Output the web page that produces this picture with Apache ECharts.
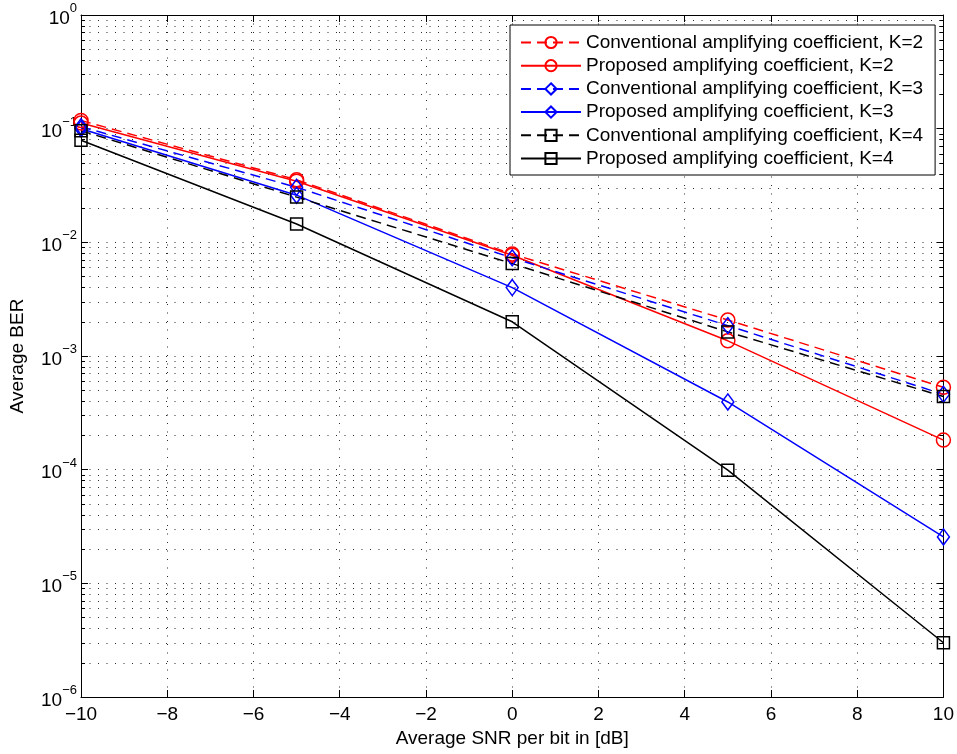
<!DOCTYPE html>
<html>
<head>
<meta charset="utf-8">
<script src="https://cdn.jsdelivr.net/npm/echarts@6/dist/echarts.min.js"></script>
<style>
  html, body { margin: 0; padding: 0; background: #fff; }
  #chart { width: 957px; height: 754px; }
</style>
</head>
<body>
<div id="chart"></div>
<script>
// Average SNR per bit (dB)
const snr = [-10, -5, 0, 5, 10];

// Average BER for each scheme
const convK2 = [0.118, 0.0355, 0.0079, 0.00207, 0.00053];
const propK2 = [0.112, 0.0345, 0.0077, 0.00136, 0.000182];
const convK3 = [0.104, 0.0305, 0.0073, 0.00185, 0.00046];
const propK3 = [0.100, 0.026, 0.0040, 0.000394, 0.0000256];
const convK4 = [0.096, 0.025, 0.0065, 0.00163, 0.00044];
const propK4 = [0.079, 0.0145, 0.0020, 0.000099, 0.0000030];

const seriesNames = [
  'Conventional amplifying coefficient, K=2',
  'Proposed amplifying coefficient, K=2',
  'Conventional amplifying coefficient, K=3',
  'Proposed amplifying coefficient, K=3',
  'Conventional amplifying coefficient, K=4',
  'Proposed amplifying coefficient, K=4'
];

// Log-axis tick positions: decades and the 2..9 sub-divisions
const decadeTicks = [1e-6, 1e-5, 1e-4, 1e-3, 1e-2, 1e-1, 1];
const minorTicks = [];
for (let e = -6; e < 0; e++) {
  for (let m = 2; m <= 9; m++) minorTicks.push(Number((m * Math.pow(10, e)).toPrecision(3)));
}

const FONT = "'Liberation Sans', Arial, Helvetica, sans-serif";
const FS = 19;
const dotted = { color: '#2a2a2a', width: 1, type: [1, 7.5] };
const dashed = [10, 6];

function makeSeries(name, values, color, symbol, size, dash) {
  return {
    name: name,
    type: 'line',
    data: snr.map((x, i) => [x, values[i]]),
    symbol: symbol,
    symbolSize: size,
    showSymbol: true,
    lineStyle: { color: color, width: 1.5, type: dash ? dashed : 'solid' },
    itemStyle: { color: 'rgba(0,0,0,0)', borderColor: color, borderWidth: 1.5 },
    emphasis: { disabled: true },
    animation: false
  };
}

const chart = echarts.init(document.getElementById('chart'), null, { renderer: 'canvas' });

chart.setOption({
  animation: false,
  backgroundColor: '#fff',
  textStyle: { fontFamily: FONT, color: '#000' },
  grid: { left: 80, top: 15, right: 12, bottom: 57, containLabel: false },
  legend: {
    orient: 'vertical',
    left: 510,
    top: 25,
    padding: [8, 12, 7, 10],
    itemWidth: 60,
    itemHeight: 14,
    itemGap: 4.2,
    backgroundColor: '#fff',
    borderColor: '#000',
    borderWidth: 1,
    borderRadius: 0,
    selectedMode: false,
    textStyle: { fontFamily: FONT, fontSize: FS, lineHeight: 19, color: '#000' },
    data: seriesNames
  },
  xAxis: [
    {
      type: 'value', min: -10, max: 10, interval: 2, position: 'bottom',
      axisLine: { onZero: false, lineStyle: { color: '#000', width: 1 } },
      axisTick: { inside: true, length: 7, lineStyle: { color: '#000' } },
      axisLabel: {
        color: '#000', fontSize: FS, fontFamily: FONT, margin: 8,
        formatter: v => (v < 0 ? '\u2212' + (-v) : String(v))
      },
      splitLine: { show: true, lineStyle: dotted },
      name: 'Average SNR per bit in [dB]',
      nameLocation: 'middle',
      nameGap: 30,
      nameTextStyle: { fontSize: FS, fontFamily: FONT, color: '#000' }
    },
    {
      type: 'value', min: -10, max: 10, interval: 2, position: 'top',
      axisLine: { onZero: false, lineStyle: { color: '#000', width: 1 } },
      axisTick: { inside: true, length: 7, lineStyle: { color: '#000' } },
      axisLabel: { show: false },
      splitLine: { show: false }
    }
  ],
  yAxis: [
    {
      type: 'log', logBase: 10, min: 1e-6, max: 1, position: 'left',
      axisLine: { onZero: false, lineStyle: { color: '#000', width: 1 } },
      axisTick: { inside: true, length: 7, customValues: decadeTicks, lineStyle: { color: '#000' } },
      axisLabel: {
        customValues: decadeTicks,
        margin: 4,
        formatter: v => {
          const e = Math.round(Math.log10(v));
          return '{b|10}{s|' + (e < 0 ? '\u2212' + (-e) : String(e)) + '}';
        },
        rich: {
          b: { fontSize: FS, fontFamily: FONT, color: '#000', verticalAlign: 'bottom', lineHeight: 26 },
          s: { fontSize: 13, fontFamily: FONT, color: '#000', verticalAlign: 'top', lineHeight: 26 }
        }
      },
      splitLine: { show: true, lineStyle: dotted },
      name: 'Average BER',
      nameLocation: 'middle',
      nameGap: 54,
      nameRotate: 90,
      nameTextStyle: { fontSize: FS, fontFamily: FONT, color: '#000' }
    },
    {
      type: 'log', logBase: 10, min: 1e-6, max: 1, position: 'left',
      axisLine: { show: false, onZero: false },
      axisTick: { inside: true, length: 4, customValues: minorTicks, lineStyle: { color: '#000' } },
      axisLabel: { show: false },
      splitLine: { show: true, lineStyle: dotted }
    },
    {
      type: 'log', logBase: 10, min: 1e-6, max: 1, position: 'right',
      axisLine: { onZero: false, lineStyle: { color: '#000', width: 1 } },
      axisTick: { inside: true, length: 7, customValues: decadeTicks, lineStyle: { color: '#000' } },
      axisLabel: { show: false },
      splitLine: { show: false }
    },
    {
      type: 'log', logBase: 10, min: 1e-6, max: 1, position: 'right',
      axisLine: { show: false, onZero: false },
      axisTick: { inside: true, length: 4, customValues: minorTicks, lineStyle: { color: '#000' } },
      axisLabel: { show: false },
      splitLine: { show: false }
    }
  ],
  series: [
    makeSeries(seriesNames[0], convK2, '#ff0000', 'circle', 14, true),
    makeSeries(seriesNames[1], propK2, '#ff0000', 'circle', 14, false),
    makeSeries(seriesNames[2], convK3, '#0000ff', 'diamond', [12, 16], true),
    makeSeries(seriesNames[3], propK3, '#0000ff', 'diamond', [12, 16], false),
    makeSeries(seriesNames[4], convK4, '#000000', 'rect', 12, true),
    makeSeries(seriesNames[5], propK4, '#000000', 'rect', 12, false)
  ]
});
</script>
</body>
</html>
